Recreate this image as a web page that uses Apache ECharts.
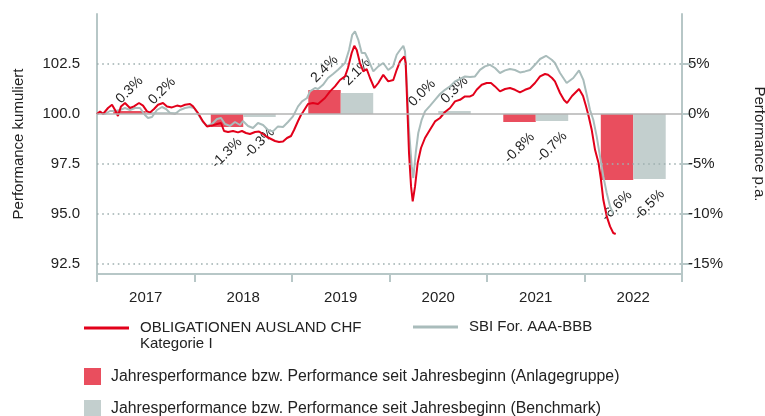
<!DOCTYPE html>
<html>
<head>
<meta charset="utf-8">
<script src="https://cdn.jsdelivr.net/npm/echarts@6/dist/echarts.min.js"></script>
<style>html,body{margin:0;padding:0;background:#fff;overflow:hidden}#c{width:765px;height:416px}</style>
</head>
<body>
<div id="c"></div>
<script>
const years = ['2017', '2018', '2019', '2020', '2021', '2022'];
const fundYearPerf = [0.3, -1.3, 2.4, 0.0, -0.8, -6.6];
const benchYearPerf = [0.2, -0.3, 2.1, 0.3, -0.7, -6.5];
const leftTicks = [92.5, 95, 97.5, 100, 102.5];
const rightTicks = [-15, -10, -5, 0, 5];
const fundName = 'OBLIGATIONEN AUSLAND CHF\nKategorie I';
const benchName = 'SBI For. AAA-BBB';
const fundBarName = 'Jahresperformance bzw. Performance seit Jahresbeginn (Anlagegruppe)';
const benchBarName = 'Jahresperformance bzw. Performance seit Jahresbeginn (Benchmark)';

// [decimal year, cumulative performance]
const fundLine = [
[2017.000,100.00],[2017.031,100.13],[2017.062,100.00],[2017.113,100.30],[2017.154,100.46],[2017.185,100.20],
[2017.215,99.90],[2017.246,100.38],[2017.287,100.55],[2017.338,100.30],[2017.379,100.38],[2017.431,100.55],
[2017.472,100.42],[2017.513,100.13],[2017.544,100.08],[2017.585,100.25],[2017.626,100.46],[2017.677,100.55],
[2017.718,100.38],[2017.769,100.33],[2017.821,100.42],[2017.862,100.38],[2017.903,100.46],[2017.954,100.50],
[2017.985,100.38],[2018.036,100.05],[2018.087,99.63],[2018.128,99.38],[2018.179,99.42],[2018.231,99.50],
[2018.272,99.55],[2018.303,99.15],[2018.344,99.10],[2018.395,99.15],[2018.446,99.08],[2018.487,99.15],
[2018.528,99.05],[2018.569,99.00],[2018.621,99.10],[2018.662,99.12],[2018.703,99.00],[2018.744,98.85],
[2018.785,98.75],[2018.826,98.65],[2018.867,98.60],[2018.908,98.62],[2018.949,98.80],[2018.990,98.90],
[2019.021,99.20],[2019.062,99.65],[2019.092,99.95],[2019.113,100.10],[2019.164,100.50],[2019.215,100.55],
[2019.267,100.50],[2019.338,100.80],[2019.390,101.13],[2019.441,101.38],[2019.492,101.70],[2019.544,101.88],
[2019.574,102.30],[2019.612,103.05],[2019.639,103.41],[2019.664,103.20],[2019.697,102.55],[2019.731,102.13],
[2019.766,102.25],[2019.800,101.80],[2019.844,101.30],[2019.885,101.55],[2019.936,101.96],[2019.987,101.63],
[2020.039,101.70],[2020.074,102.21],[2020.108,102.63],[2020.152,102.88],[2020.166,102.55],[2020.179,100.88],
[2020.200,98.05],[2020.221,96.38],[2020.238,95.63],[2020.262,96.38],[2020.289,97.55],[2020.323,98.30],
[2020.364,98.80],[2020.415,99.21],[2020.467,99.63],[2020.518,99.80],[2020.569,100.10],[2020.621,100.30],
[2020.672,100.63],[2020.723,100.71],[2020.774,100.88],[2020.826,100.88],[2020.859,100.96],[2020.894,101.21],
[2020.946,101.46],[2020.997,101.55],[2021.041,101.55],[2021.082,101.38],[2021.133,101.13],[2021.185,101.25],
[2021.236,101.30],[2021.287,101.21],[2021.338,101.08],[2021.390,101.21],[2021.441,101.30],[2021.492,101.55],
[2021.544,101.88],[2021.595,102.00],[2021.626,101.96],[2021.667,101.80],[2021.697,101.63],[2021.749,101.05],
[2021.790,100.70],[2021.821,100.55],[2021.872,100.90],[2021.913,101.10],[2021.944,101.25],[2021.985,100.90],
[2022.015,100.40],[2022.039,99.96],[2022.074,99.21],[2022.108,98.21],[2022.144,97.55],[2022.169,96.71],
[2022.193,95.71],[2022.228,94.88],[2022.262,94.38],[2022.295,94.05],[2022.320,94.00]
];
const benchLine = [
[2017.000,100.00],[2017.041,100.08],[2017.082,100.00],[2017.133,100.15],[2017.185,100.15],[2017.236,100.20],
[2017.287,100.30],[2017.338,100.20],[2017.390,100.30],[2017.441,100.30],[2017.492,99.95],[2017.523,99.80],
[2017.564,99.85],[2017.615,100.20],[2017.667,100.35],[2017.708,100.25],[2017.749,100.05],[2017.800,100.00],
[2017.851,100.20],[2017.903,100.30],[2017.954,100.35],[2017.995,100.30],[2018.036,100.00],[2018.087,99.60],
[2018.128,99.40],[2018.179,99.50],[2018.231,99.75],[2018.272,99.80],[2018.313,99.50],[2018.364,99.40],
[2018.415,99.60],[2018.467,99.45],[2018.497,99.65],[2018.549,99.40],[2018.600,99.30],[2018.651,99.55],
[2018.703,99.45],[2018.754,99.20],[2018.805,99.13],[2018.856,99.38],[2018.908,99.35],[2018.959,99.60],
[2019.010,99.88],[2019.062,100.38],[2019.103,100.63],[2019.154,100.80],[2019.185,101.13],[2019.236,101.30],
[2019.267,101.25],[2019.318,101.46],[2019.369,101.80],[2019.421,102.00],[2019.472,102.21],[2019.544,102.55],
[2019.585,103.20],[2019.618,103.96],[2019.646,104.13],[2019.680,103.71],[2019.715,103.05],[2019.749,103.05],
[2019.783,102.71],[2019.834,102.13],[2019.885,102.38],[2019.936,102.55],[2019.987,102.20],[2020.036,102.38],
[2020.074,102.96],[2020.108,103.20],[2020.142,103.41],[2020.159,103.13],[2020.179,101.38],[2020.200,99.21],
[2020.228,97.38],[2020.244,96.80],[2020.269,98.05],[2020.295,99.05],[2020.330,99.71],[2020.364,100.13],
[2020.415,100.41],[2020.467,100.71],[2020.518,101.00],[2020.569,101.21],[2020.621,101.38],[2020.672,101.63],
[2020.723,101.75],[2020.774,101.88],[2020.826,101.85],[2020.877,101.88],[2020.928,102.21],[2020.979,102.38],
[2021.031,102.46],[2021.082,102.30],[2021.133,102.05],[2021.185,102.18],[2021.236,102.25],[2021.287,102.20],
[2021.338,102.08],[2021.390,102.13],[2021.441,102.20],[2021.492,102.46],[2021.544,102.75],[2021.605,102.91],
[2021.664,102.71],[2021.697,102.55],[2021.749,102.05],[2021.817,101.55],[2021.885,101.80],[2021.944,102.18],
[2021.988,101.71],[2022.023,100.96],[2022.056,100.21],[2022.090,99.71],[2022.125,98.88],[2022.159,97.88],
[2022.193,96.88],[2022.228,96.05],[2022.262,95.38],[2022.292,95.05]
];

const FONT = 'Liberation Sans';
const TXT = '#222';
const AXIS = '#b7c7c7';
const RED = '#e2001a';
const GRAYLINE = '#a9bcbb';
const REDBAR = '#e94e5e';
const GRAYBAR = '#c3cfce';

function barItems(vals) {
  return vals.map(v => ({
    value: v,
    label: v >= 0 ? { position: 'top', distance: 21 } : { position: 'bottom', distance: 26 }
  }));
}
const barLabel = {
  show: true, rotate: 45, align: 'center', verticalAlign: 'middle',
  fontFamily: FONT, fontSize: 14, color: TXT,
  formatter: p => p.value.toFixed(1) + '%'
};
const legendText = { fontFamily: FONT, fontSize: 15, color: TXT, lineHeight: 16 };
const barLegendText = { fontFamily: FONT, fontSize: 15.8, color: TXT, lineHeight: 17, padding: [0, 0, 0, 5] };

const chart = echarts.init(document.getElementById('c'), null, { renderer: 'canvas' });
chart.setOption({
  animation: false,
  textStyle: { fontFamily: FONT },
  grid: { left: 97, right: 83, top: 14, bottom: 142, containLabel: false, outerBoundsMode: 'none' },
  legend: [
    {
      data: [fundName], left: 84, top: 304, padding: 0, icon: 'rect', itemWidth: 45, itemHeight: 3,
      formatter: n => '\n' + n,
      textStyle: Object.assign({ padding: [0, 0, 0, 6] }, legendText),
      selectedMode: false
    },
    {
      data: [benchName], left: 413, top: 319, padding: 0, icon: 'rect', itemWidth: 45, itemHeight: 3,
      textStyle: Object.assign({ padding: [0, 0, 0, 6] }, legendText),
      selectedMode: false
    },
    {
      data: [fundBarName], left: 84, top: 368, padding: 0,
      icon: 'rect', itemWidth: 17, itemHeight: 17,
      textStyle: barLegendText, selectedMode: false
    },
    {
      data: [benchBarName], left: 84, top: 400, padding: 0,
      icon: 'rect', itemWidth: 17, itemHeight: 17,
      textStyle: barLegendText, selectedMode: false
    }
  ],
  xAxis: [
    {
      type: 'category', data: years, boundaryGap: true, position: 'bottom',
      axisLine: { show: true, onZero: false, lineStyle: { color: AXIS, width: 2 } },
      axisTick: { show: true, length: 8, lineStyle: { color: AXIS, width: 2 } },
      axisLabel: { fontFamily: FONT, fontSize: 15, color: TXT, margin: 16 },
      splitLine: { show: false }
    },
    {
      type: 'value', min: 2017, max: 2023, show: false, splitLine: { show: false },
      axisLine: { onZero: false }
    }
  ],
  yAxis: [
    {
      type: 'value', min: 92, max: 105, position: 'left',
      name: 'Performance kumuliert', nameLocation: 'middle', nameGap: 71,
      nameTextStyle: { fontFamily: FONT, fontSize: 15, color: TXT },
      axisLine: { show: true, onZero: false, lineStyle: { color: AXIS, width: 2 } },
      axisTick: { show: false },
      axisLabel: { customValues: leftTicks, fontFamily: FONT, fontSize: 15, color: TXT, margin: 17,
        formatter: v => Number(v).toFixed(1) },
      splitLine: { show: false }
    },
    {
      type: 'value', min: -16, max: 10, position: 'right',
      name: 'Performance p.a.', nameLocation: 'middle', nameGap: 70, nameRotate: -90,
      nameTextStyle: { fontFamily: FONT, fontSize: 15, color: TXT },
      axisLine: { show: true, onZero: false, lineStyle: { color: AXIS, width: 2 } },
      axisTick: { show: true, customValues: rightTicks, length: 10, lineStyle: { color: AXIS, width: 2 } },
      axisLabel: { customValues: rightTicks, fontFamily: FONT, fontSize: 15, color: TXT, margin: 6,
        formatter: v => v + '%' },
      splitLine: { show: false }
    }
  ],
  series: [
    {
      name: fundBarName, type: 'bar', xAxisIndex: 0, yAxisIndex: 1,
      data: barItems(fundYearPerf), barWidth: '33.3%', barGap: '0%',
      itemStyle: { color: REDBAR }, label: barLabel
    },
    {
      name: benchBarName, type: 'bar', xAxisIndex: 0, yAxisIndex: 1,
      data: barItems(benchYearPerf), barWidth: '33.3%', barGap: '0%',
      itemStyle: { color: GRAYBAR }, label: barLabel
    },
    {
      name: benchName, type: 'line', xAxisIndex: 1, yAxisIndex: 0,
      data: benchLine, showSymbol: false, symbol: 'none',
      lineStyle: { color: GRAYLINE, width: 2 }, itemStyle: { color: GRAYLINE },
      markLine: {
        silent: true, symbol: ['none', 'none'], label: { show: false },
        lineStyle: { color: '#9eb0b0', width: 1.6, type: [1.6, 3.6] },
        data: leftTicks.filter(v => v !== 100).map(v => ({ yAxis: v }))
      }
    },
    {
      name: fundName, type: 'line', xAxisIndex: 1, yAxisIndex: 0,
      data: fundLine, showSymbol: false, symbol: 'none',
      lineStyle: { color: RED, width: 2 }, itemStyle: { color: RED },
      markLine: {
        silent: true, symbol: ['none', 'none'], label: { show: false },
        lineStyle: { color: '#b3b3b3', width: 1.5, type: 'solid' },
        data: [{ yAxis: 100 }]
      }
    }
  ]
});
</script>
</body>
</html>
